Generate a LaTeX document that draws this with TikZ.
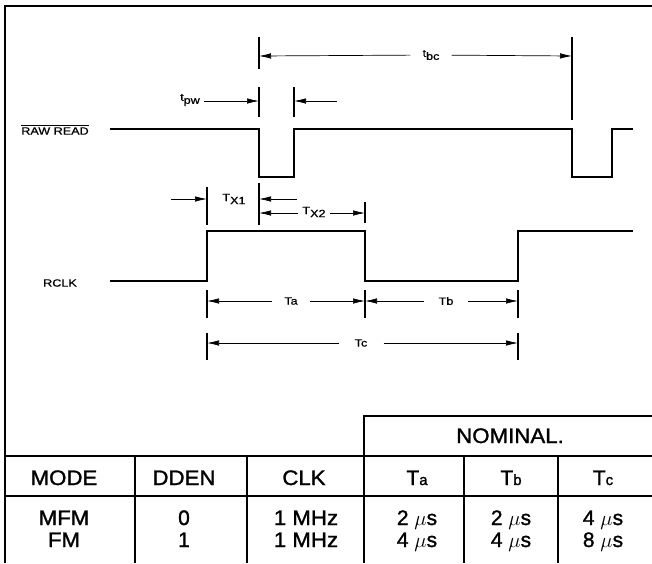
\documentclass[tikz,border=0pt]{standalone}
\usepackage{fontspec}
\setmainfont{Liberation Sans}
\newfontfamily\heavy{Liberation Sans}[FakeBold=0.8]
\newfontfamily\heavytab{Liberation Sans}[FakeBold=1.3]
\usetikzlibrary{arrows.meta}
\newcommand\hsc[2]{\scalebox{#1}[1]{#2}}
\newcommand\lsub[2]{#1\raisebox{-3pt}{#2}}
\begin{document}
\begin{tikzpicture}[x=1pt,y=-1pt,
  sig/.style={line width=1.8pt, line join=miter},
  tick/.style={line width=1.4pt},
  dim/.style={line width=0.7pt},
  dimarr/.style={dim,-{Latex[length=12pt,width=5.5pt]}},
  lab/.style={font=\heavy\fontsize{10.5}{11}\selectfont, inner ysep=0pt},
  tab/.style={font=\heavytab\fontsize{21}{23}\selectfont, inner sep=0pt, anchor=base},
  rule/.style={line width=1.3pt}]
\useasboundingbox (0,0) rectangle (652,563);
% frame
\draw[rule] (5,563) -- (5,6) -- (652,6);
% signals
\draw[sig] (110,129) -- (259,129) -- (259,177) -- (294,177) -- (294,129) -- (572,129) -- (572,177) -- (612,177) -- (612,129) -- (633,129);
\draw[sig] (110,281) -- (207,281) -- (207,231) -- (365,231) -- (365,281) -- (518,281) -- (518,231) -- (633,231);
% signal labels
\node[lab, inner xsep=0pt] (rr) at (55,131) {\hsc{1.2}{RAW READ}};
\draw[line width=0.8pt] ([yshift=2pt]rr.north west) -- ([yshift=2pt]rr.north east);
\node[lab, inner xsep=0pt] (rclk) at (60,283) {\hsc{1.2}{RCLK}};
% tbc
\draw[tick] (259,37) -- (259,69);
\draw[tick] (572,37) -- (572,120);
\coordinate (tbcL) at (259,56);
\coordinate (tbcR) at (572,56);
\node[lab, inner xsep=12pt] (tbc) at (431,55) {\hsc{1.2}{\lsub{t}{bc}}};
\draw[dimarr] (tbc) -- (tbcL);
\draw[dimarr] (tbc) -- (tbcR);
% tpw
\draw[tick] (259,87) -- (259,117);
\draw[tick] (294,87) -- (294,117);
\node[lab, inner xsep=4pt] (tpw) at (190,100) {\hsc{1.2}{\lsub{t}{pw}}};
\coordinate (tpwA) at (259,101);
\coordinate (tpwB) at (294,101);
\coordinate (tpwC) at (337,101);
\draw[dimarr] (tpw.east |- tpwA) -- (tpwA);
\draw[dimarr] (tpwC) -- (tpwB);
% Tx1, Tx2
\draw[tick] (207,187) -- (207,225);
\draw[tick] (259,183) -- (259,225);
\draw[tick] (365,202) -- (365,223);
\coordinate (x1s) at (171,199);
\coordinate (x1a) at (207,199);
\coordinate (x1b) at (259,199);
\coordinate (x1e) at (297,199);
\draw[dimarr] (x1s) -- (x1a);
\draw[dimarr] (x1e) -- (x1b);
\node[lab] (tx1) at (234,199) {\hsc{1.2}{\lsub{T}{X1}}};
\node[lab, inner xsep=4pt] (tx2) at (314,212) {\hsc{1.2}{\lsub{T}{X2}}};
\coordinate (x2a) at (259,213);
\coordinate (x2b) at (365,213);
\draw[dimarr] (tx2.west |- x2a) -- (x2a);
\draw[dimarr] (tx2.east |- x2b) -- (x2b);
% Ta Tb Tc
\draw[tick] (207,290) -- (207,318);
\draw[tick] (365,290) -- (365,318);
\draw[tick] (518,290) -- (518,318);
\draw[tick] (207,333) -- (207,360);
\draw[tick] (518,333) -- (518,360);
\coordinate (ta1) at (207,301);
\coordinate (ta2) at (365,301);
\coordinate (tb2) at (518,301);
\coordinate (tc1) at (207,343);
\coordinate (tc2) at (518,343);
\node[lab, inner xsep=12pt] (ta) at (291,301) {\hsc{1.2}{Ta}};
\node[lab, inner xsep=14pt] (tb) at (446,301) {\hsc{1.2}{Tb}};
\node[lab, inner xsep=16pt] (tc) at (361,343) {\hsc{1.2}{Tc}};
\draw[dimarr] (ta) -- (ta1);
\draw[dimarr] (ta) -- (ta2);
\draw[dimarr] (tb) -- (ta2);
\draw[dimarr] (tb) -- (tb2);
\draw[dimarr] (tc) -- (tc1);
\draw[dimarr] (tc) -- (tc2);
% table rules
\draw[rule] (364,563) -- (364,416) -- (652,416);
\draw[rule] (5,456) -- (652,456);
\draw[rule] (5,496) -- (652,496);
\foreach \x in {135,247,464,558} \draw[rule] (\x,456) -- (\x,563);
% table text
\node[tab] (nom) at (510,443) {\hsc{1.06}{NOMINAL.}};
\node[tab] (hmode) at (64,485) {\hsc{1.06}{MODE}};
\node[tab] (hdden) at (184,485) {\hsc{1.06}{DDEN}};
\node[tab] (hclk) at (304,485) {\hsc{1.06}{CLK}};
\node[tab] (hta) at (417,485) {T{\fontsize{15}{15}\selectfont a}};
\node[tab] (htb) at (511,485) {T{\fontsize{15}{15}\selectfont b}};
\node[tab] (htc) at (603,485) {T{\fontsize{15}{15}\selectfont c}};
\node[tab] (m1) at (64,525) {\hsc{1.06}{MFM}};
\node[tab] (m2) at (64,547) {\hsc{1.06}{FM}};
\node[tab] (d1) at (184,525) {0};
\node[tab] (d2) at (184,547) {1};
\node[tab] (c1) at (306,525) {\hsc{1.06}{1 MHz}};
\node[tab] (c2) at (306,547) {\hsc{1.06}{1 MHz}};
\node[tab] (a1) at (417,525) {2 $\mu$s};
\node[tab] (a2) at (417,547) {4 $\mu$s};
\node[tab] (b1) at (511,525) {2 $\mu$s};
\node[tab] (b2) at (511,547) {4 $\mu$s};
\node[tab] (e1) at (603,525) {4 $\mu$s};
\node[tab] (e2) at (603,547) {8 $\mu$s};
\end{tikzpicture}
\end{document}
